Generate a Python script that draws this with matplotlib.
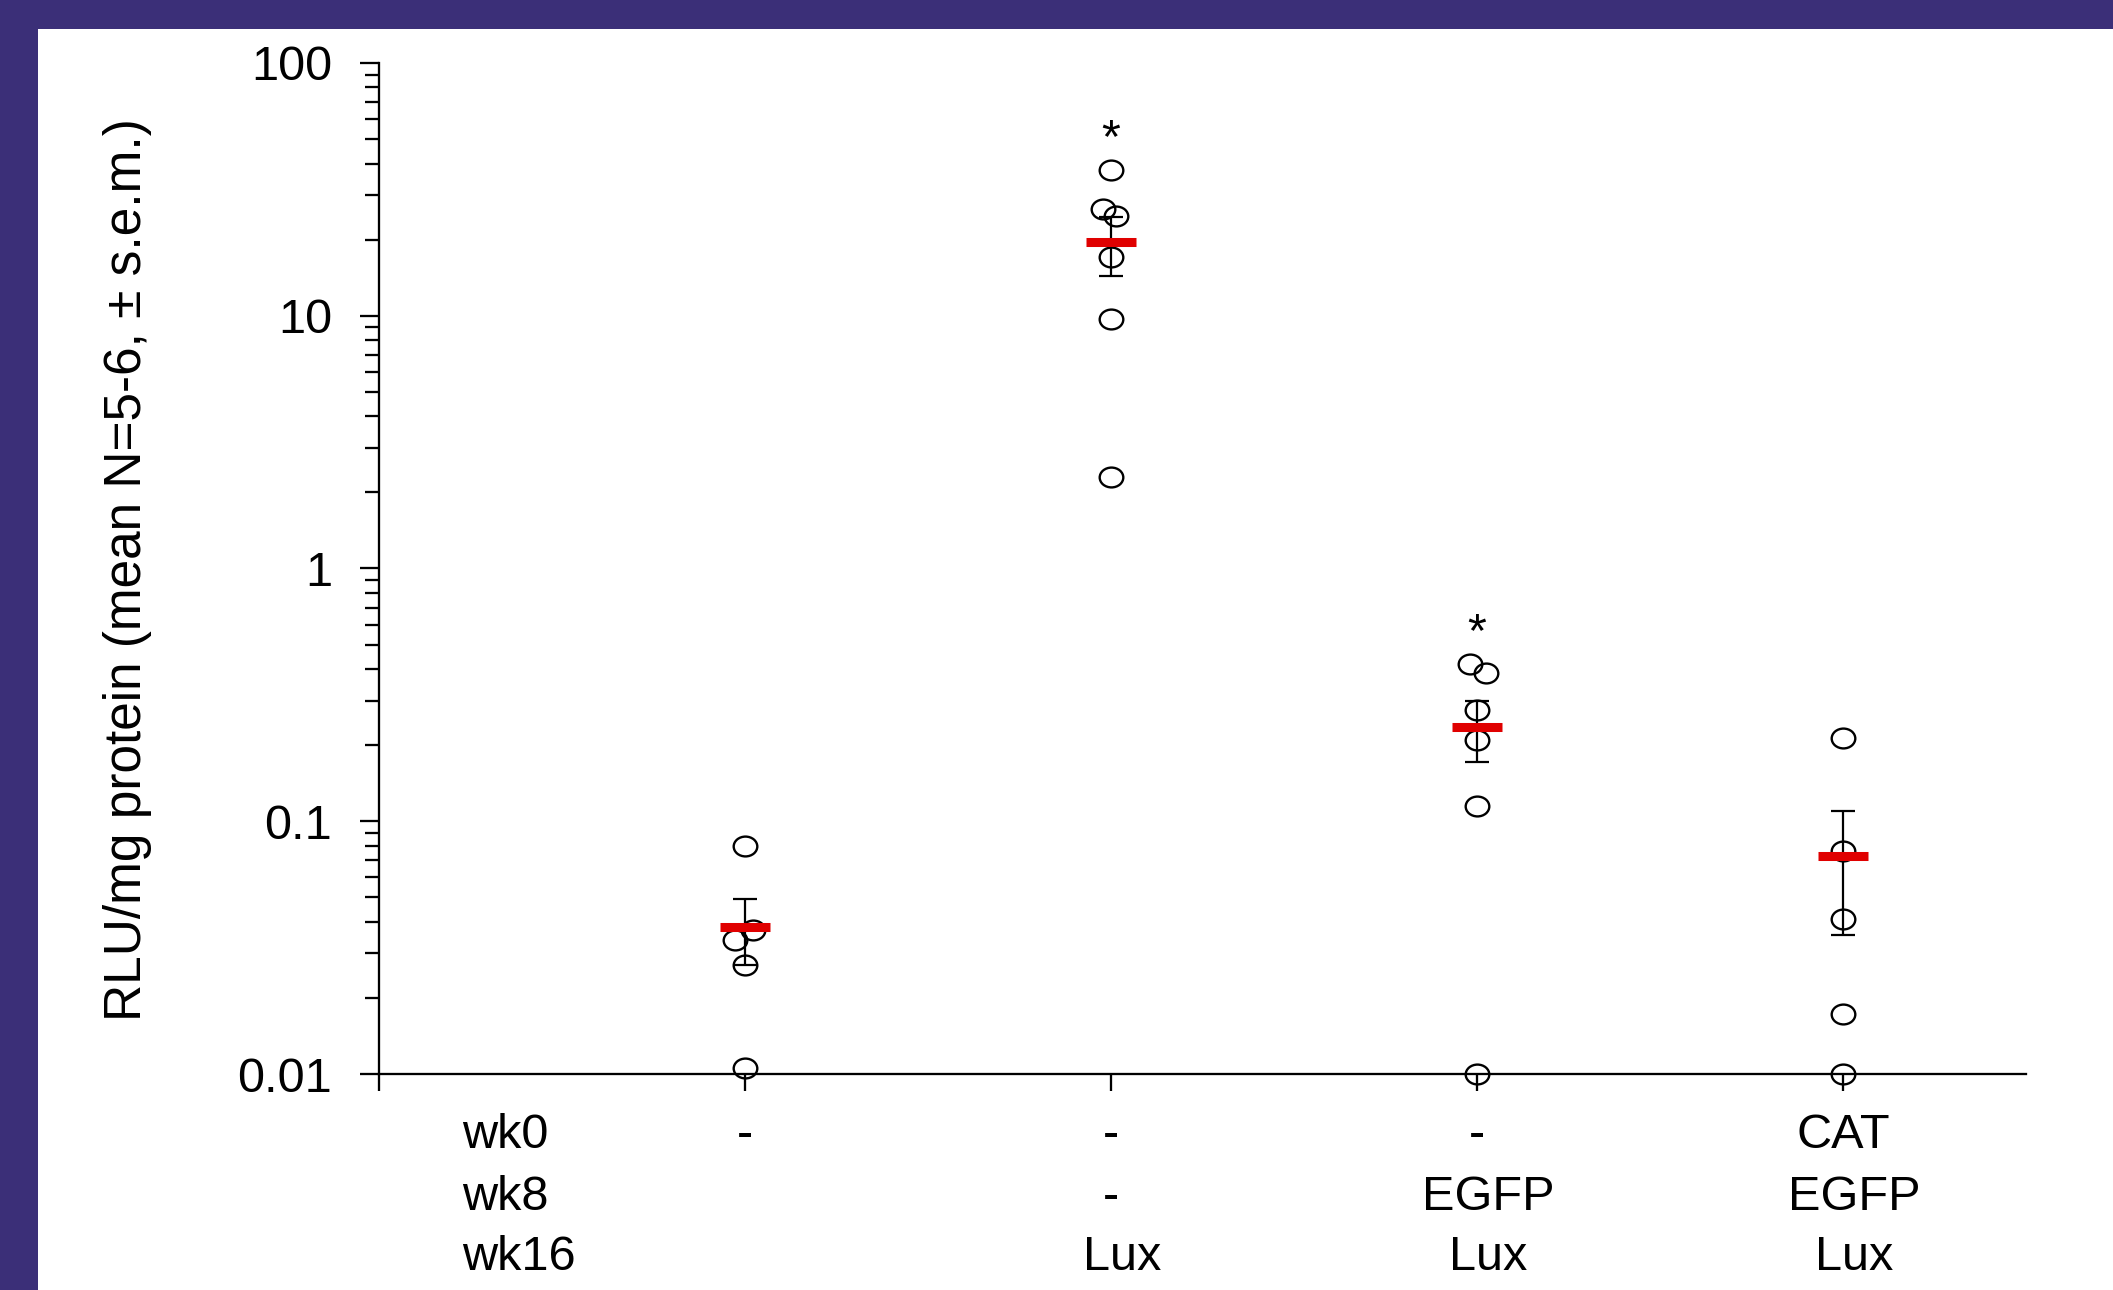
import numpy as np
import matplotlib
matplotlib.use('Agg')
from matplotlib import pyplot as plt
from matplotlib import transforms
from matplotlib.path import Path
from matplotlib.patches import Rectangle
from matplotlib.ticker import LogLocator, NullFormatter

plt.rcParams['font.family'] = ['Liberation Sans', 'DejaVu Sans']

# values (RLU/mg protein)
groups = [1, 2, 3, 4]
pts_g1 = [0.080, 0.037, 0.034, 0.027, 0.0106]
pts_g2 = [37.7, 26.4, 24.7, 17.1, 9.7, 2.3]
pts_g3 = [0.418, 0.386, 0.276, 0.2105, 0.1146, 0.010]
pts_g4 = [0.2136, 0.0762, 0.0409, 0.0173, 0.010]
# small sideways shifts of overlapping points
jit_g1 = [0, 0.021, -0.027, 0, 0]
jit_g2 = [0, -0.023, 0.014, 0, 0, 0]
jit_g3 = [-0.019, 0.024, 0, 0, 0, 0]
jit_g4 = [0, 0, 0, 0, 0]
means = [0.0382, 19.5, 0.235, 0.0726]
sems = [0.0111, 5.1, 0.064, 0.0370]
signif = [False, True, True, False]

row_names = ['wk0', 'wk8', 'wk16']
col_labels = [['-', '', ''],
              ['-', '-', 'Lux'],
              ['-', 'EGFP', 'Lux'],
              ['CAT', 'EGFP', 'Lux']]
ytick_vals = [0.01, 0.1, 1, 10, 100]
ytick_labels = ['0.01', '0.1', '1', '10', '100']
ylab = 'RLU/mg protein (mean N=5-6, \u00b1 s.e.m.)'

W, H = 2113, 1290
purple = '#3b2f78'

fig = plt.figure(figsize=(W / 100, H / 100), dpi=100, facecolor=purple)
fig.add_artist(Rectangle((38 / W, 0), 1 - 38 / W, 1261 / H, transform=fig.transFigure,
                         facecolor='white', edgecolor='none', zorder=0))

ax = fig.add_axes([379 / W, 216 / H, 1647 / W, 1011 / H])
ax.set_facecolor('none')
ax.set_yscale('log')
ax.set_ylim(0.01, 100)
ax.set_xlim(0, 4.5)

# slightly wide open circle, like the original
ell = Path.unit_circle().transformed(transforms.Affine2D().scale(1, 0.84))

all_pts = [pts_g1, pts_g2, pts_g3, pts_g4]
all_jit = [jit_g1, jit_g2, jit_g3, jit_g4]
for g, pts, jit in zip(groups, all_pts, all_jit):
    ax.plot(g + np.array(jit), pts, linestyle='none', marker=ell, ms=17,
            mfc='none', mec='black', mew=1.7, clip_on=False, zorder=3)

ax.errorbar(groups, means, yerr=sems, fmt='none', ecolor='black', elinewidth=1.6,
            capsize=8.3, capthick=1.6, zorder=4)
g_arr = np.array(groups)
ax.hlines(means, g_arr - 0.068, g_arr + 0.068, colors='#e00000', linewidth=6.5,
          capstyle='butt', zorder=5)

for g, pts, s in zip(groups, all_pts, signif):
    if s:
        ax.annotate('*', xy=(g, max(pts)), xytext=(0, 13), textcoords='offset points',
                    ha='center', va='baseline', fontsize=35)

for side in ['top', 'right']:
    ax.spines[side].set_visible(False)
for side in ['left', 'bottom']:
    ax.spines[side].set_linewidth(1.65)

ax.set_yticks(ytick_vals, ytick_labels)
ax.yaxis.set_minor_locator(LogLocator(base=10, subs=np.arange(2, 10)))
ax.yaxis.set_minor_formatter(NullFormatter())
ax.tick_params(axis='y', which='major', direction='out', length=13.7, width=1.65,
               labelsize=35, pad=20)
ax.tick_params(axis='y', which='minor', direction='out', length=10, width=1.65)
ax.set_xticks([0, 1, 2, 3, 4], [])
ax.tick_params(axis='x', which='major', direction='out', length=12, width=1.65)
ax.tick_params(axis='x', which='minor', length=0)

fig.text(128 / W, (H - 570) / H, ylab, rotation=90, ha='center', va='center', fontsize=37)

# treatment table under the axis
baselines = [1148, 1210, 1270]
blend = transforms.blended_transform_factory(ax.transData, fig.transFigure)
for r, name in enumerate(row_names):
    yb = (H - baselines[r]) / H
    fig.text(462 / W, yb, name, ha='left', va='baseline', fontsize=35)
    for g, labs in zip(groups, col_labels):
        shift = 0 if labs[r] in ('-', 'CAT') else 0.03
        ax.text(g + shift, yb, labs[r], transform=blend, ha='center', va='baseline',
                fontsize=35)

fig.savefig('out.png', dpi=100, facecolor=purple)
